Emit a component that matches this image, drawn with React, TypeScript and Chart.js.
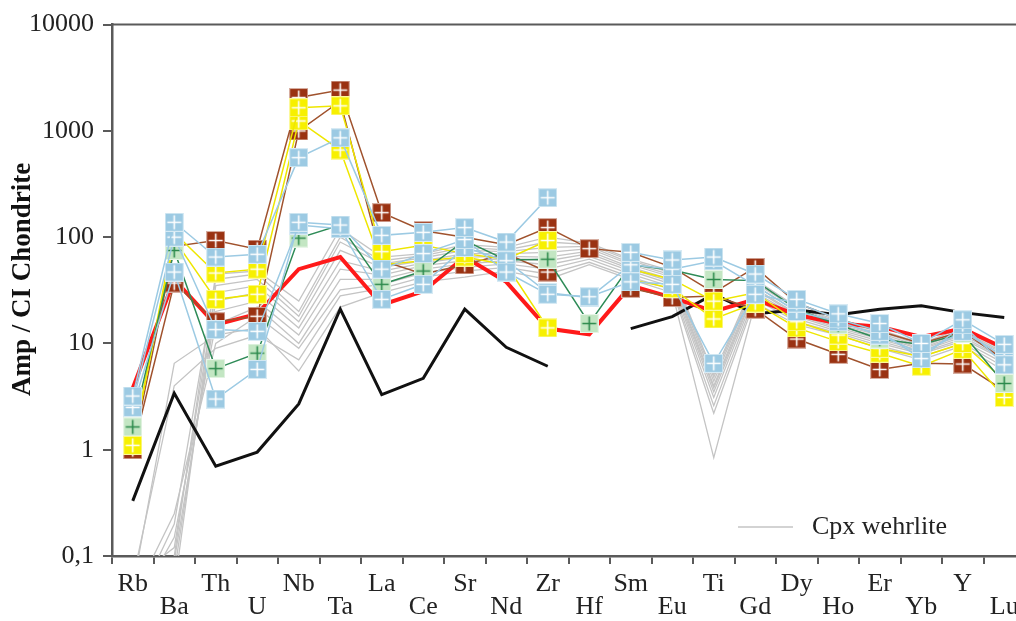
import React, { useEffect, useRef } from 'react';
import { Chart, registerables } from 'chart.js';

Chart.register(...registerables);

const CATEGORIES = ['Rb', 'Ba', 'Th', 'U', 'Nb', 'Ta', 'La', 'Ce', 'Sr', 'Nd', 'Zr', 'Hf', 'Sm', 'Eu', 'Ti', 'Gd', 'Dy', 'Ho', 'Er', 'Yb', 'Y', 'Lu'];
const Y_TICKS = [0.1, 1, 10, 100, 1000, 10000];
const Y_TICK_LABELS = ['0,1', '1', '10', '100', '1000', '10000'];
const Y_TITLE = 'Amp / CI Chondrite';
const LEGEND_LABEL = 'Cpx wehrlite';

// Amphibole samples (marked series)
const blue1 = [3.2, 138, 65, 69, 560, 860, 104, 111, 123, 90, 235, null, 72, 61, 65, 45, 26, 19, 15.4, 10, 16.7, 9.8];
const blue2 = [2.5, 47, 3.0, 5.7, 138, 130, 50, 70, 95, 47, 29, 27.5, 38, 36, 6.5, 29, 24, 17, 13, 7.2, 15, 6.3];
const blue3 = [2.8, 100, 13.5, 13, 130, 120, 26, 36, 80, 60, 30, 27, 55, 50, 60, 35, 20, 16, 12, 8, 13, 7.5];
const green = [1.64, 75, 5.8, 8.1, 98, 130, 36, 48, 93, 61, 62, 15.4, 55, 49, 40, 39, 21, 15, 11, 9.8, 12.4, 4.2];
const yellow1 = [1.1, 110, 46, 50, 1650, 1720, 73, 84, 70, 62, 93, null, 50, 40, 25, 30, 16, 12, 9, 7.5, 10, 4.5];
const yellow2 = [1.15, 95, 26, 29, 1240, 660, 55, 60, 65, 55, 14, null, 40, 33, 17, 24, 14, 10.4, 8.1, 6.1, 8.8, 3.1];
const brown1 = [1.0, 82, 93, 77, 2060, 2420, 170, 115, 100, 85, 123, 78, 72, 52, 30, 52, 24, 17, 13, 10, 13, 7];
const brown2 = [1.0, 37, 16, 18, 1000, 1900, 60, 45, 55, 70, 47, null, 33, 27, 28, 21, 11, 7.9, 5.7, 6.5, 6.4, 3.6];
const redLine = [3.8, 40, 15, 19, 50, 65, 23, 31, 65, 38, 13.8, 12.2, 35, 27, 20, 26, 18.6, 15.4, 14.4, 11.5, 13.8, 9];
const blackLine = [0.33, 3.4, 0.7, 0.95, 2.7, 21, 3.3, 4.7, 21, 9.2, 6.1, null, 13.8, 17.9, 29, 19, 20.6, 18.6, 21, 22.6, 19.5, 17.5];

// Cpx wehrlite (grey lines)
const gray1 = [0.05, 6.5, 12, 14, 5.5, 22, 30, 38, 42, 48, 40, 55, 40, 30, 0.84, 24, 15, 12, 9, 7, 9.5, 5.5];
const gray2 = [0.06, 4.0, 9, 12, 7, 28, 33, 42, 48, 52, 45, 58, 42, 32, 2.2, 26, 16, 12.5, 9.5, 7.5, 10, 6];
const gray3 = [0.04, 0.25, 10, 18, 9, 32, 36, 46, 52, 56, 50, 62, 45, 34, 2.6, 28, 17, 13, 10, 8, 10.5, 6.5];
const gray4 = [0.03, 0.15, 15, 22, 10, 40, 40, 50, 56, 60, 55, 66, 48, 36, 3.1, 30, 18, 13.5, 10.5, 8.2, 11, 7];
const gray5 = [0.05, 0.09, 20, 25, 12, 50, 44, 54, 60, 63, 60, 70, 50, 38, 3.5, 32, 18.5, 14, 11, 8.5, 11.5, 7.2];
const gray6 = [0.04, 0.07, 25, 30, 14, 60, 48, 57, 65, 66, 65, 74, 52, 40, 3.8, 33, 19, 14.5, 11.5, 8.8, 12, 7.5];
const gray7 = [0.06, 0.12, 30, 35, 16, 75, 52, 60, 70, 70, 72, 78, 55, 42, 4.0, 35, 20, 15, 12, 9, 12.5, 8];
const gray8 = [0.05, 0.05, 35, 40, 18, 90, 56, 64, 75, 73, 80, 82, 57, 44, 4.4, 37, 21, 15.5, 12.5, 9.3, 13, 8.2];
const gray9 = [0.03, 0.2, 40, 45, 20, 100, 60, 67, 80, 76, 90, 85, 60, 46, 4.8, 38, 21.5, 16, 13, 9.6, 13.5, 8.5];
const gray10 = [0.05, 0.1, 45, 48, 25, 120, 65, 70, 85, 80, 100, 88, 62, 48, 5.1, 40, 22, 16.5, 13.5, 10, 14, 9];
const GRAYS = [gray1, gray2, gray3, gray4, gray5, gray6, gray7, gray8, gray9, gray10];

const FONT = "'Liberation Serif', 'Times New Roman', serif";
const AXIS_COLOR = '#5a5a5a';
const TEXT_COLOR = '#222222';
const GRAY_COLOR = '#c4c4c4';

function makeMarker(fill: string, cross: string, size = 19): HTMLCanvasElement {
  const c = document.createElement('canvas');
  c.width = size;
  c.height = size;
  const g = c.getContext('2d')!;
  g.fillStyle = fill;
  g.fillRect(0, 0, size, size);
  g.strokeStyle = 'rgba(255,255,255,0.6)';
  g.lineWidth = 1;
  g.strokeRect(0.5, 0.5, size - 1, size - 1);
  g.strokeStyle = cross;
  g.lineWidth = 1.6;
  const m = size / 2;
  g.beginPath();
  g.moveTo(m, 2.5);
  g.lineTo(m, size - 2.5);
  g.moveTo(2.5, m);
  g.lineTo(size - 2.5, m);
  g.stroke();
  return c;
}

const framePlugin = {
  id: 'frameAndLegend',
  afterDraw(chart: any) {
    const { ctx, chartArea: a } = chart;
    ctx.save();
    // top frame line
    ctx.strokeStyle = AXIS_COLOR;
    ctx.lineWidth = 2;
    ctx.beginPath();
    ctx.moveTo(a.left - 1, a.top);
    ctx.lineTo(a.right, a.top);
    ctx.stroke();
    // legend
    const ly = a.bottom - 29;
    ctx.strokeStyle = GRAY_COLOR;
    ctx.lineWidth = 1.5;
    ctx.beginPath();
    ctx.moveTo(a.right - 287, ly);
    ctx.lineTo(a.right - 232, ly);
    ctx.stroke();
    ctx.fillStyle = TEXT_COLOR;
    ctx.font = `26px ${FONT}`;
    ctx.textAlign = 'left';
    ctx.textBaseline = 'middle';
    ctx.fillText(LEGEND_LABEL, a.right - 213, ly);
    // y axis title
    ctx.translate(30, (a.top + a.bottom) / 2 - 11);
    ctx.rotate(-Math.PI / 2);
    ctx.font = `bold 27px ${FONT}`;
    ctx.fillStyle = '#111';
    ctx.textAlign = 'center';
    ctx.textBaseline = 'alphabetic';
    ctx.fillText(Y_TITLE, 0, 0);
    ctx.restore();
  },
};

export default function App() {
  const ref = useRef<HTMLCanvasElement | null>(null);

  useEffect(() => {
    if (!ref.current) return;
    const mBlue = makeMarker('#9ccae3', '#ffffff');
    const mGreen = makeMarker('#c3e6c3', '#2c8a4c');
    const mYellow = makeMarker('#f7f000', '#ffffff');
    const mBrown = makeMarker('#9a3212', '#ffffff');

    const marked = (data: (number | null)[], line: string, marker: HTMLCanvasElement) => ({
      data,
      borderColor: line,
      backgroundColor: line,
      borderWidth: 1.5,
      pointStyle: marker,
      pointRadius: 10,
      spanGaps: false,
      tension: 0,
    });

    const datasets: any[] = [
      marked(blue1, '#9ccae3', mBlue),
      marked(blue2, '#9ccae3', mBlue),
      marked(blue3, '#9ccae3', mBlue),
      marked(green, '#2e8b57', mGreen),
      marked(yellow1, '#eee600', mYellow),
      marked(yellow2, '#eee600', mYellow),
      marked(brown1, '#a0522d', mBrown),
      marked(brown2, '#a0522d', mBrown),
      { data: redLine, borderColor: '#ff1a1a', borderWidth: 4, pointRadius: 0, spanGaps: false, tension: 0 },
      { data: blackLine, borderColor: '#111111', borderWidth: 3, pointRadius: 0, spanGaps: false, tension: 0 },
      ...GRAYS.map((g) => ({ data: g, borderColor: GRAY_COLOR, borderWidth: 1.3, pointRadius: 0, spanGaps: false, tension: 0 })),
    ];

    const chart = new Chart(ref.current, {
      type: 'line',
      data: { labels: CATEGORIES, datasets },
      plugins: [framePlugin],
      options: {
        animation: false,
        responsive: false,
        devicePixelRatio: 1,
        layout: { padding: { top: 21, right: 15, left: 0, bottom: 0 } },
        plugins: { legend: { display: false }, tooltip: { enabled: false } },
        scales: {
          x: {
            type: 'category',
            offset: true,
            grid: { offset: true, drawOnChartArea: false, drawTicks: true, tickLength: 8, color: AXIS_COLOR, lineWidth: 2 },
            border: { display: true, color: AXIS_COLOR, width: 2.5 },
            ticks: {
              autoSkip: false,
              maxRotation: 0,
              minRotation: 0,
              padding: 8,
              color: TEXT_COLOR,
              font: { family: FONT, size: 26, lineHeight: 0.9 },
              callback: (_v: any, i: number) => (i % 2 === 0 ? [CATEGORIES[i], ''] : ['', CATEGORIES[i]]),
            },
            afterFit: (s: any) => {
              s.height = 65;
            },
          },
          y: {
            type: 'logarithmic',
            min: 0.1,
            max: 10000,
            afterBuildTicks: (s: any) => {
              s.ticks = Y_TICKS.map((v) => ({ value: v, major: true }));
            },
            grid: { drawOnChartArea: false, drawTicks: true, tickLength: 9, color: AXIS_COLOR, lineWidth: 2 },
            border: { display: true, color: AXIS_COLOR, width: 2.5 },
            ticks: {
              padding: 9,
              color: TEXT_COLOR,
              font: { family: FONT, size: 26 },
              callback: (v: any) => {
                const idx = Y_TICKS.indexOf(Number(v));
                return idx >= 0 ? Y_TICK_LABELS[idx] : '';
              },
            },
            afterFit: (s: any) => {
              s.width = 112;
            },
          },
        },
      },
    });
    return () => chart.destroy();
  }, []);

  return (
    <div style={{ position: 'fixed', left: 0, top: 0, width: 1016, height: 621, overflow: 'hidden', background: '#ffffff' }}>
      <canvas ref={ref} width={1040} height={621} style={{ display: 'block' }} />
    </div>
  );
}
